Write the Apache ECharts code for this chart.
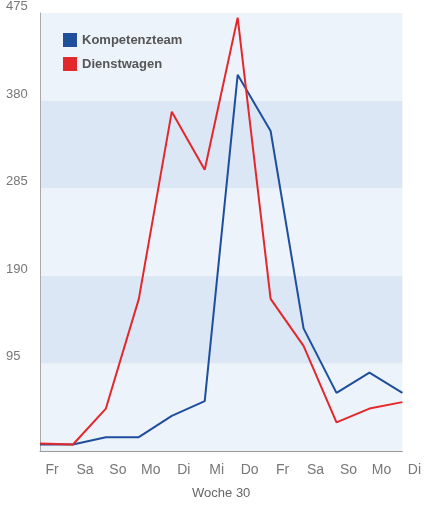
<!DOCTYPE html><html><head><meta charset="utf-8"><script src="https://cdn.jsdelivr.net/npm/echarts@6/dist/echarts.min.js"></script></head><body style="margin:0"><div id="c" style="width:424px;height:508px"></div><script>
const categories=['Fr','Sa','So','Mo','Di','Mi','Do','Fr','Sa','So','Mo','Di'];
const kompetenzteam=[7,7,15,15,38,54,408,347,133,63,85,63];
const dienstwagen=[8,7,46,165,368,305,470,165,114,31,46,53];
const yTicks=[0,95,190,285,380,475];
const ch=echarts.init(document.getElementById('c'));
ch.setOption({animation:false,backgroundColor:'#fff',
grid:{left:40,right:4,top:6,bottom:57},
legend:{left:58,top:28,orient:'vertical',itemWidth:14,itemHeight:14,itemGap:10,icon:'rect',
 textStyle:{fontFamily:'Liberation Sans',fontWeight:'bold',fontSize:13,color:'#555'},data:['Kompetenzteam','Dienstwagen']},
xAxis:{type:'category',data:categories,boundaryGap:false,name:'Woche 30',nameLocation:'middle',nameGap:36,
 nameTextStyle:{fontFamily:'Liberation Sans',fontSize:13,color:'#666'},
 axisLine:{lineStyle:{color:'#999'}},axisTick:{show:false},
 axisLabel:{fontFamily:'Liberation Sans',fontSize:14,color:'#777',margin:12,padding:[0,0,0,24]}},
yAxis:{type:'value',min:0,max:475,interval:95,
 axisLine:{show:true,lineStyle:{color:'#aaa'}},axisTick:{show:false},
 axisLabel:{inside:true,verticalAlign:'bottom',margin:-34,fontFamily:'Liberation Sans',fontSize:13,color:'#777',
  formatter:v=>v===0?'':String(v)},
 splitLine:{show:false},
 splitArea:{show:true,areaStyle:{color:['#edf3fb','#dbe7f4']}}},
series:[
 {name:'Kompetenzteam',type:'line',data:kompetenzteam,symbol:'none',lineStyle:{width:2,color:'#1f4e9c'},itemStyle:{color:'#1f4e9c'}},
 {name:'Dienstwagen',type:'line',data:dienstwagen,symbol:'none',lineStyle:{width:2,color:'#e3282d'},itemStyle:{color:'#e3282d'}}
]});
</script></body></html>
